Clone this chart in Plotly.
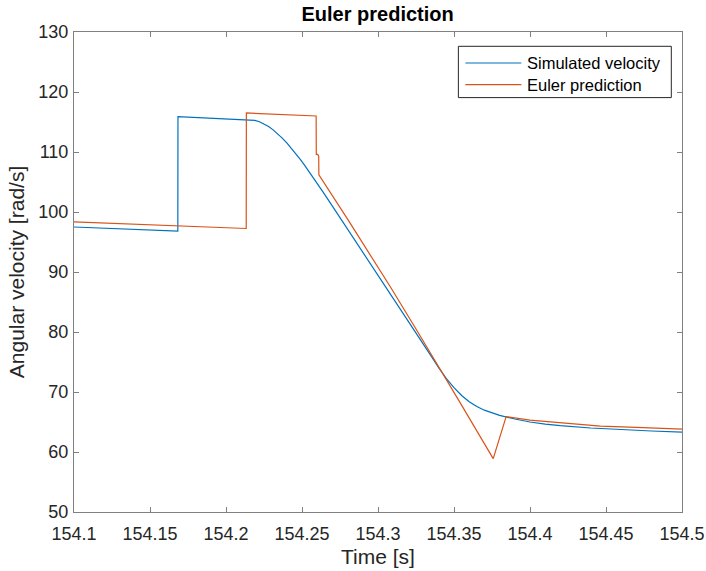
import plotly.graph_objects as go

# ---- data ----
sim_time = [154.100, 154.1683, 154.1684, 154.216, 154.219, 154.222, 154.225, 154.228,
            154.231, 154.234, 154.237, 154.240, 154.243, 154.246, 154.249, 154.252,
            154.255, 154.258, 154.261, 154.264, 154.270, 154.280, 154.290, 154.300,
            154.310, 154.320, 154.330, 154.335, 154.340, 154.345, 154.350, 154.355,
            154.360, 154.365, 154.370, 154.375, 154.380, 154.390, 154.400, 154.410,
            154.420, 154.440, 154.460, 154.480, 154.500]
sim_velocity = [97.5, 96.8, 115.9, 115.35, 115.28, 115.05, 114.70, 114.24,
                113.69, 113.04, 112.31, 111.51, 110.64, 109.71, 108.73, 107.70,
                106.63, 105.53, 104.41, 103.28, 100.99, 97.17, 93.35, 89.53,
                85.71, 81.89, 77.95, 75.97, 74.02, 72.22, 70.72, 69.42,
                68.37, 67.57, 66.97, 66.47, 66.10, 65.50, 65.00, 64.65,
                64.38, 64.00, 63.72, 63.50, 63.30]

euler_time = [154.100, 154.2133, 154.2134, 154.2593, 154.2594, 154.2603, 154.2610, 154.2611,
              154.280, 154.3016, 154.3082, 154.325, 154.3466, 154.3543, 154.3758, 154.3843,
              154.400, 154.4464, 154.470, 154.500]
euler_velocity = [98.35, 97.25, 116.5, 116.0, 109.6, 109.6, 109.3, 106.2,
                  98.8, 90.3, 87.5, 80.5, 71.5, 68.1, 58.9, 65.9,
                  65.3, 64.3, 64.1, 63.8]

series_names = ["Simulated velocity", "Euler prediction"]
series_colors = ["#0072BD", "#D95319"]

x_ticks = [154.1, 154.15, 154.2, 154.25, 154.3, 154.35, 154.4, 154.45, 154.5]
x_tick_labels = ["154.1", "154.15", "154.2", "154.25", "154.3", "154.35", "154.4", "154.45", "154.5"]
y_ticks = [50, 60, 70, 80, 90, 100, 110, 120, 130]

FONT = "Liberation Sans, Arial, Helvetica, sans-serif"
AXIS_COL = "#808080"
TEXT_COL = "#262626"

W, H = 706, 571
ML, MR, MT, MB = 73.5, 24.3, 31.7, 59.3
PW, PH = W - ML - MR, H - MT - MB


def px_to_paper(px, py):
    return (px - ML) / PW, (H - MB - py) / PH


fig = go.Figure()
for xs, ys, name, col in [(sim_time, sim_velocity, series_names[0], series_colors[0]),
                          (euler_time, euler_velocity, series_names[1], series_colors[1])]:
    fig.add_trace(go.Scatter(x=xs, y=ys, mode="lines", name=name, showlegend=False,
                             line=dict(color=col, width=1.2)))

axis_common = dict(showline=True, linecolor=AXIS_COL, linewidth=1, mirror="ticks",
                   ticks="inside", ticklen=5, tickcolor=AXIS_COL, tickwidth=1,
                   showgrid=False, zeroline=False,
                   tickfont=dict(family=FONT, size=18, color=TEXT_COL))

fig.update_xaxes(range=[154.1, 154.5], tickvals=x_ticks, ticktext=x_tick_labels,
                 ticklabelstandoff=5,
                 title=dict(text="Time [s]", font=dict(family=FONT, size=21, color=TEXT_COL),
                            standoff=6),
                 **axis_common)
fig.update_yaxes(range=[50, 130], tickvals=y_ticks, ticklabelstandoff=1,
                 title=dict(text="Angular velocity [rad/s]",
                            font=dict(family=FONT, size=21, color=TEXT_COL), standoff=8),
                 **axis_common)

# ---- legend box drawn in the MATLAB style ----
shapes = []
annotations = []
bx0, by1 = px_to_paper(458, 46)
bx1, by0 = px_to_paper(671, 97.3)
shapes.append(dict(type="rect", xref="paper", yref="paper", x0=bx0, x1=bx1, y0=by0, y1=by1,
                   line=dict(color="#262626", width=1), fillcolor="white", layer="above"))
for name, col, py in zip(series_names, series_colors, [62.7, 84.3]):
    lx0, ly = px_to_paper(465, py)
    lx1, _ = px_to_paper(521, py)
    shapes.append(dict(type="line", xref="paper", yref="paper", x0=lx0, x1=lx1, y0=ly, y1=ly,
                       line=dict(color=col, width=1.2), layer="above"))
    tx, _ = px_to_paper(525, py)
    annotations.append(dict(text=name, xref="paper", yref="paper", x=tx, y=ly,
                            xanchor="left", yanchor="middle", showarrow=False,
                            font=dict(family=FONT, size=16.5, color="black")))

fig.update_layout(
    width=W, height=H,
    margin=dict(l=ML, r=MR, t=MT, b=MB, autoexpand=False),
    paper_bgcolor="white", plot_bgcolor="white",
    title=dict(text="<b>Euler prediction</b>", x=(ML + PW / 2) / W, xanchor="center",
               yref="container", y=1 - 14 / H, yanchor="middle",
               font=dict(family=FONT, size=20, color="black")),
    shapes=shapes,
    annotations=annotations,
    showlegend=False,
)

fig.write_html("out.html")
